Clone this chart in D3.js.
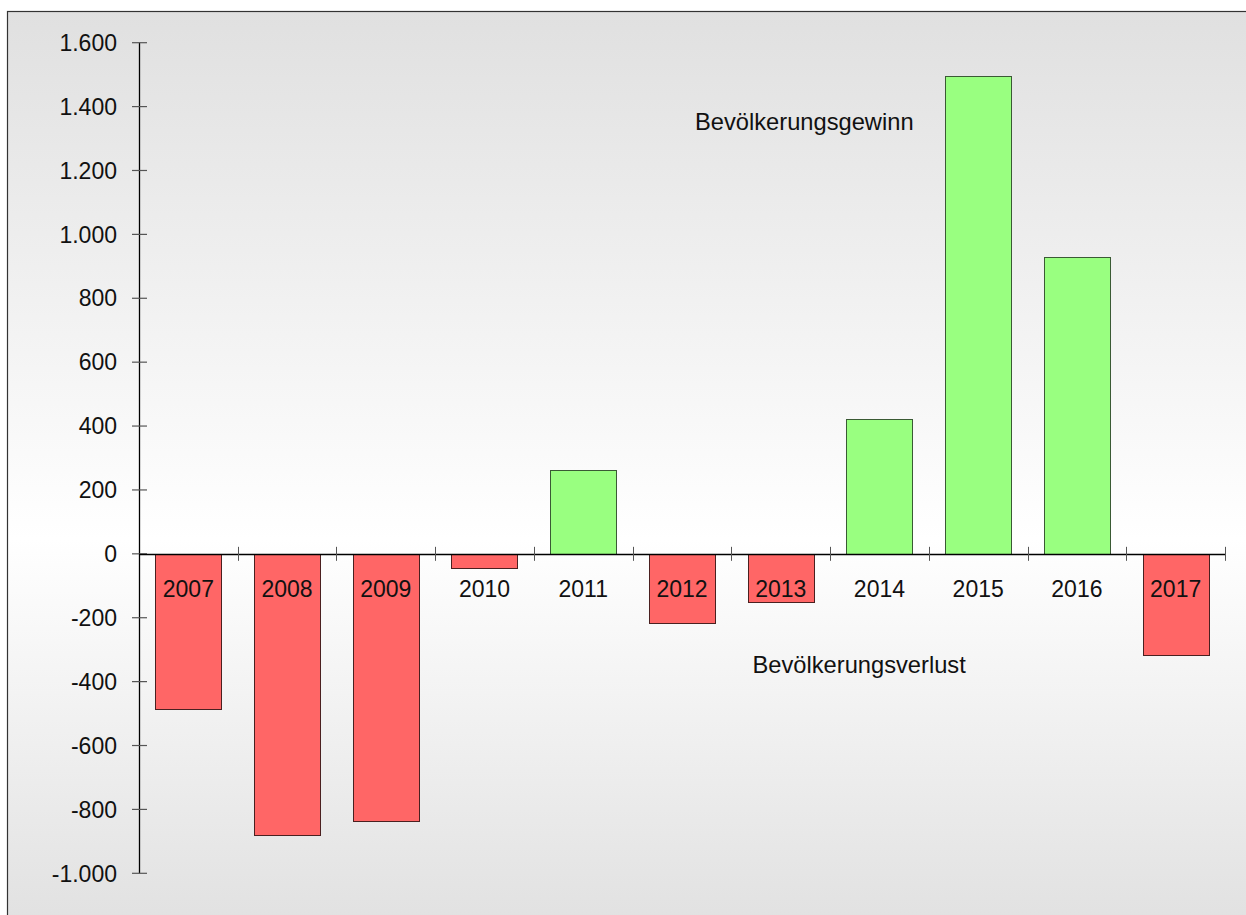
<!DOCTYPE html>
<html>
<head>
<meta charset="utf-8">
<script src="https://cdn.jsdelivr.net/npm/d3@7"></script>
<style>
  html, body { margin: 0; padding: 0; background: #ffffff; overflow: hidden; }
  svg { display: block; font-family: "Liberation Sans", Arial, Helvetica, sans-serif; }
</style>
</head>
<body>
<svg id="chart" width="1246" height="915"></svg>
<script>
// Jährliche Bevölkerungsveränderung
const years = ["2007", "2008", "2009", "2010", "2011", "2012", "2013", "2014", "2015", "2016", "2017"];
const changes = [-484, -881, -836, -44, 264, -217, -151, 423, 1495, 929, -317];
const yTicks = [-1000, -800, -600, -400, -200, 0, 200, 400, 600, 800, 1000, 1200, 1400, 1600];
const gainLabel = "Bevölkerungsgewinn";
const lossLabel = "Bevölkerungsverlust";

const W = 1246, H = 915;
const svg = d3.select("#chart");

// Hintergrund mit vertikalem Verlauf
const defs = svg.append("defs");
const grad = defs.append("linearGradient")
  .attr("id", "bg").attr("x1", 0).attr("y1", 0).attr("x2", 0).attr("y2", 1);
grad.append("stop").attr("offset", "0%").attr("stop-color", "#e0e0e0");
grad.append("stop").attr("offset", "57%").attr("stop-color", "#ffffff");
grad.append("stop").attr("offset", "100%").attr("stop-color", "#e0e0e0");

svg.append("rect")
  .attr("x", 7.5).attr("y", 11.5)
  .attr("width", W + 10).attr("height", H + 10)
  .attr("fill", "url(#bg)")
  .attr("stroke", "#333333").attr("stroke-width", 1.2);

const x = d3.scaleBand()
  .domain(years)
  .range([139, 1225])
  .paddingInner(0.33)
  .paddingOuter(0.165);

const y = d3.scaleLinear()
  .domain([-1000, 1600])
  .range([873.3, 42.7]);

// deutsches Zahlenformat mit Punkt als Tausendertrennzeichen und einfachem Minus
const fmt = v => d3.format(",")(v).replace(/,/g, ".").replace("\u2212", "-");

// Balken
svg.append("g")
  .selectAll("rect")
  .data(years.map((yr, i) => ({ yr, v: changes[i] })))
  .join("rect")
  .attr("x", d => Math.round(x(d.yr)) + 0.5)
  .attr("width", Math.round(x.bandwidth()))
  .attr("y", d => Math.round(y(Math.max(0, d.v))) + 0.5)
  .attr("height", d => Math.round(Math.abs(y(d.v) - y(0))))
  .attr("fill", d => d.v >= 0 ? "#99ff80" : "#ff6666")
  .attr("stroke", d => d.v >= 0 ? "#3a5a34" : "#4a2020")
  .attr("stroke-width", 1);

// y-Achse
const yAxis = d3.axisLeft(y)
  .tickValues(yTicks)
  .tickSize(0)
  .tickFormat(fmt);

const gy = svg.append("g").attr("transform", "translate(139.5,0)");
gy.append("line")
  .attr("y1", y(-1000)).attr("y2", y(1600))
  .attr("stroke", "#000").attr("stroke-width", 1.3);
gy.selectAll("line.tick")
  .data(yTicks)
  .join("line")
  .attr("class", "tick")
  .attr("x1", -7.5).attr("x2", 7.5)
  .attr("y1", d => y(d)).attr("y2", d => y(d))
  .attr("stroke", "#555").attr("stroke-width", 1.2);
gy.selectAll("text")
  .data(yTicks)
  .join("text")
  .attr("x", -22.5)
  .attr("y", d => y(d) + 8.2)
  .attr("text-anchor", "end")
  .attr("font-size", 23)
  .attr("fill", "#111")
  .text(yAxis.tickFormat());

// x-Achse (Nulllinie)
const gx = svg.append("g");
gx.append("line")
  .attr("x1", 139).attr("x2", 1225)
  .attr("y1", Math.round(y(0)) + 0.5).attr("y2", Math.round(y(0)) + 0.5)
  .attr("stroke", "#000").attr("stroke-width", 1.3);
const boundaries = years.map(yr => x(yr) - x.step() * x.paddingInner() / 2 + x.step());
gx.selectAll("line.tick")
  .data(boundaries)
  .join("line")
  .attr("class", "tick")
  .attr("x1", d => Math.round(d) + 0.5).attr("x2", d => Math.round(d) + 0.5)
  .attr("y1", y(0) - 7).attr("y2", y(0) + 7)
  .attr("stroke", "#555").attr("stroke-width", 1);
gx.selectAll("text")
  .data(years)
  .join("text")
  .attr("x", d => x(d) + x.bandwidth() / 2)
  .attr("y", y(0) + 43.5)
  .attr("text-anchor", "middle")
  .attr("font-size", 23)
  .attr("fill", "#111")
  .text(d => d);

// Beschriftungen
svg.append("text")
  .attr("x", 695).attr("y", 129.5)
  .attr("font-size", 23.7).attr("fill", "#111")
  .text(gainLabel);
svg.append("text")
  .attr("x", 752.5).attr("y", 672.7)
  .attr("font-size", 23.7).attr("fill", "#111")
  .text(lossLabel);
</script>
</body>
</html>
